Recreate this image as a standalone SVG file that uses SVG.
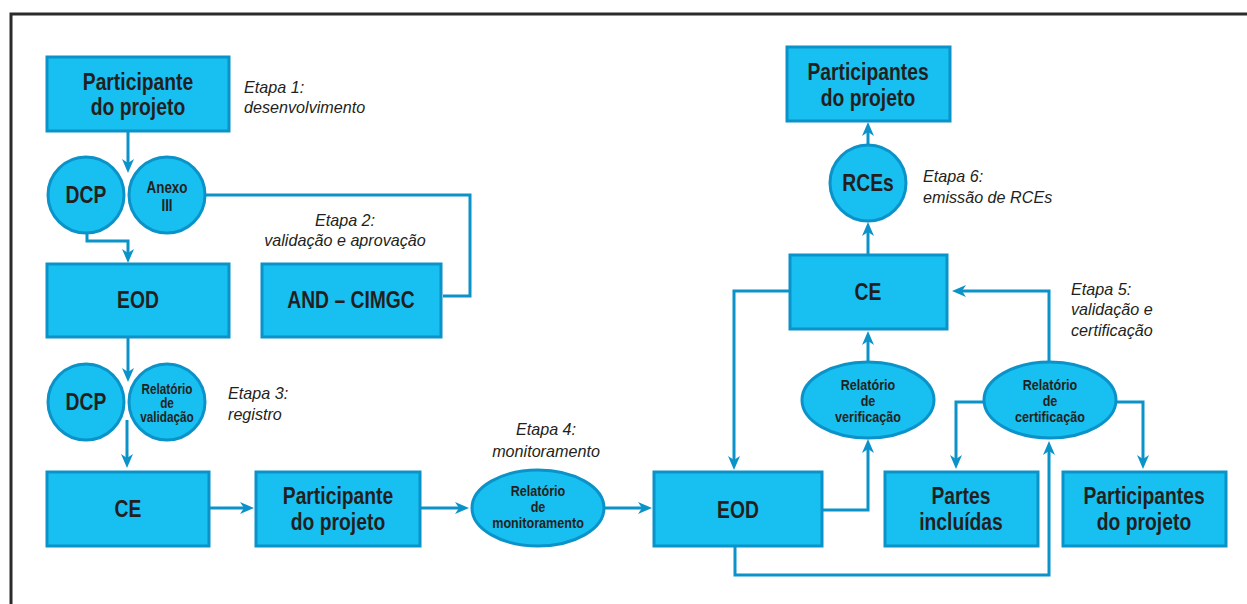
<svg xmlns="http://www.w3.org/2000/svg" width="1247" height="604" viewBox="0 0 1247 604">
<style>
.box{fill:#17c0f0;stroke:#0b93c9;stroke-width:3}
.t{font-family:"Liberation Sans",Arial,sans-serif;font-weight:bold;fill:#231f20;text-anchor:middle}
.big{font-size:23px}
.mid{font-size:16px}
.sm{font-size:14px}
.md{font-size:15px}
.et{font-family:"Liberation Sans",Arial,sans-serif;font-style:italic;font-size:17px;fill:#231f20}
.c{fill:none;stroke:#0b93c9;stroke-width:3}
</style>
<defs>
<marker id="ar" viewBox="0 0 14 12" refX="4" refY="6" markerWidth="14" markerHeight="12" markerUnits="userSpaceOnUse" orient="auto">
<path d="M0,0 L14,6 L0,12 L4,6 Z" fill="#0b93c9"/>
</marker>
</defs>
<rect width="1247" height="604" fill="#fff"/>
<path d="M11,604 V14 H1247" fill="none" stroke="#2b2b2b" stroke-width="3"/>

<g id="connectors">
<path class="c" d="M128,131 V163" marker-end="url(#ar)"/>
<path class="c" d="M87,232 V241 H128 V253" marker-end="url(#ar)"/>
<path class="c" d="M205,195 H470 V296 H443"/>
<path class="c" d="M128,337 V372" marker-end="url(#ar)"/>
<path class="c" d="M127,420 V458" marker-end="url(#ar)"/>
<path class="c" d="M209,508 H244" marker-end="url(#ar)"/>
<path class="c" d="M420,508 H459" marker-end="url(#ar)"/>
<path class="c" d="M604,508 H642" marker-end="url(#ar)"/>
<path class="c" d="M790,291 H734 V460" marker-end="url(#ar)"/>
<path class="c" d="M822,510 H868 V449" marker-end="url(#ar)"/>
<path class="c" d="M868,363 V341" marker-end="url(#ar)"/>
<path class="c" d="M868,255 V232" marker-end="url(#ar)"/>
<path class="c" d="M868,146 V132" marker-end="url(#ar)"/>
<path class="c" d="M1049,362 V291 H962" marker-end="url(#ar)"/>
<path class="c" d="M735,546 V575 H1049 V451" marker-end="url(#ar)"/>
<path class="c" d="M984,402 H956 V459" marker-end="url(#ar)"/>
<path class="c" d="M1116,402 H1143 V459" marker-end="url(#ar)"/>
</g>

<g id="participante1">
<rect class="box" x="47" y="57" width="182" height="74"/>
<text class="t big" transform="translate(138,90) scale(0.84,1)">Participante</text>
<text class="t big" transform="translate(138,115) scale(0.84,1)">do projeto</text>
</g>
<g id="dcp1">
<circle class="box" cx="86" cy="195" r="38"/>
<text class="t big" transform="translate(86,203) scale(0.84,1)">DCP</text>
</g>
<g id="anexo3">
<circle class="box" cx="167" cy="195" r="38"/>
<text class="t mid" transform="translate(167,193) scale(0.84,1)">Anexo</text>
<text class="t mid" transform="translate(167,211) scale(0.84,1)">III</text>
</g>
<g id="eod1">
<rect class="box" x="47" y="264" width="182" height="73"/>
<text class="t big" transform="translate(138,308) scale(0.84,1)">EOD</text>
</g>
<g id="and">
<rect class="box" x="262" y="264" width="179" height="73"/>
<text class="t big" transform="translate(351,308) scale(0.84,1)">AND – CIMGC</text>
</g>
<g id="dcp2">
<circle class="box" cx="86" cy="402" r="38"/>
<text class="t big" transform="translate(86,410) scale(0.84,1)">DCP</text>
</g>
<g id="relvalid">
<circle class="box" cx="167" cy="402" r="38"/>
<text class="t sm" transform="translate(167,394) scale(0.84,1)">Relatório</text>
<text class="t sm" transform="translate(167,408) scale(0.84,1)">de</text>
<text class="t sm" transform="translate(167,422) scale(0.84,1)">validação</text>
</g>
<g id="ce1">
<rect class="box" x="47" y="472" width="162" height="74"/>
<text class="t big" transform="translate(128,517) scale(0.84,1)">CE</text>
</g>
<g id="participante2">
<rect class="box" x="256" y="472" width="164" height="74"/>
<text class="t big" transform="translate(338,504) scale(0.84,1)">Participante</text>
<text class="t big" transform="translate(338,530) scale(0.84,1)">do projeto</text>
</g>
<g id="relmon">
<ellipse class="box" cx="538" cy="508" rx="66" ry="38"/>
<text class="t md" transform="translate(538,496) scale(0.84,1)">Relatório</text>
<text class="t md" transform="translate(538,512) scale(0.84,1)">de</text>
<text class="t md" transform="translate(538,528) scale(0.84,1)">monitoramento</text>
</g>
<g id="eod2">
<rect class="box" x="654" y="472" width="168" height="74"/>
<text class="t big" transform="translate(738,518) scale(0.84,1)">EOD</text>
</g>
<g id="relver">
<ellipse class="box" cx="868" cy="400" rx="66" ry="38"/>
<text class="t md" transform="translate(868,390) scale(0.84,1)">Relatório</text>
<text class="t md" transform="translate(868,406) scale(0.84,1)">de</text>
<text class="t md" transform="translate(868,422) scale(0.84,1)">verificação</text>
</g>
<g id="ce2">
<rect class="box" x="790" y="255" width="157" height="74"/>
<text class="t big" transform="translate(868,300) scale(0.84,1)">CE</text>
</g>
<g id="rces">
<circle class="box" cx="868" cy="183" r="38"/>
<text class="t big" transform="translate(868,191) scale(0.84,1)">RCEs</text>
</g>
<g id="participantes1">
<rect class="box" x="787" y="47" width="163" height="74"/>
<text class="t big" transform="translate(868,80) scale(0.84,1)">Participantes</text>
<text class="t big" transform="translate(868,106) scale(0.84,1)">do projeto</text>
</g>
<g id="relcert">
<ellipse class="box" cx="1050" cy="400" rx="66" ry="38"/>
<text class="t md" transform="translate(1050,390) scale(0.84,1)">Relatório</text>
<text class="t md" transform="translate(1050,406) scale(0.84,1)">de</text>
<text class="t md" transform="translate(1050,422) scale(0.84,1)">certificação</text>
</g>
<g id="partes">
<rect class="box" x="885" y="472" width="153" height="74"/>
<text class="t big" transform="translate(961,504) scale(0.84,1)">Partes</text>
<text class="t big" transform="translate(961,530) scale(0.84,1)">incluídas</text>
</g>
<g id="participantes2">
<rect class="box" x="1063" y="472" width="163" height="74"/>
<text class="t big" transform="translate(1144,504) scale(0.84,1)">Participantes</text>
<text class="t big" transform="translate(1144,530) scale(0.84,1)">do projeto</text>
</g>

<g id="etapas">
<text class="et" transform="translate(244,93) scale(0.95,1)">Etapa 1:</text>
<text class="et" transform="translate(244,113) scale(0.95,1)">desenvolvimento</text>
<text class="et" text-anchor="middle" transform="translate(345,226) scale(0.95,1)">Etapa 2:</text>
<text class="et" text-anchor="middle" transform="translate(345,246) scale(0.95,1)">validação e aprovação</text>
<text class="et" transform="translate(228,399) scale(0.95,1)">Etapa 3:</text>
<text class="et" transform="translate(228,420) scale(0.95,1)">registro</text>
<text class="et" text-anchor="middle" transform="translate(546,435) scale(0.95,1)">Etapa 4:</text>
<text class="et" text-anchor="middle" transform="translate(546,457) scale(0.95,1)">monitoramento</text>
<text class="et" transform="translate(1071,295) scale(0.95,1)">Etapa 5:</text>
<text class="et" transform="translate(1071,315) scale(0.95,1)">validação e</text>
<text class="et" transform="translate(1071,336) scale(0.95,1)">certificação</text>
<text class="et" transform="translate(923,182) scale(0.95,1)">Etapa 6:</text>
<text class="et" transform="translate(923,203) scale(0.95,1)">emissão de RCEs</text>
</g>
</svg>
